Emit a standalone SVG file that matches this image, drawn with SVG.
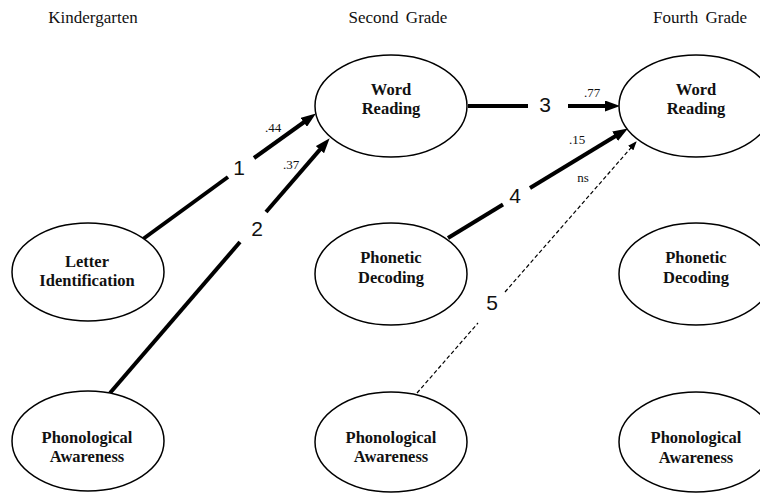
<svg xmlns="http://www.w3.org/2000/svg" width="760" height="495" viewBox="0 0 760 495">
<defs>
<style>
.node ellipse{fill:#fff;stroke:#000;stroke-width:1.5}
.nt{font-family:"Liberation Serif","Times New Roman",serif;font-weight:bold;font-size:16.5px;text-anchor:middle;fill:#111}
.hdr{font-family:"Liberation Serif","Times New Roman",serif;font-size:17px;text-anchor:middle;fill:#111}
.thick{stroke:#000;stroke-width:4;fill:none}
.dash{stroke:#000;stroke-width:1.2;stroke-dasharray:4 2.5;fill:none}
.num{font-family:"Liberation Sans",Arial,sans-serif;font-size:21px;text-anchor:middle;fill:#111}
.coef{font-family:"Liberation Serif","Times New Roman",serif;font-size:13px;text-anchor:middle;fill:#111}
</style>
<marker id="ah" markerUnits="userSpaceOnUse" markerWidth="15" markerHeight="11" refX="4" refY="5.5" orient="auto" viewBox="0 0 15 11">
<path d="M0,0 L15,5.5 L0,11 z" fill="#000"/>
</marker>
<marker id="ahs" markerUnits="userSpaceOnUse" markerWidth="9" markerHeight="7" refX="8" refY="3.5" orient="auto" viewBox="0 0 9 7">
<path d="M0,0 L9,3.5 L0,7 z" fill="#000"/>
</marker>
</defs>
<rect width="760" height="495" fill="#fff"/>
<g id="headers">
<text class="hdr" x="93" y="23">Kindergarten</text>
<text class="hdr" x="398" y="23" word-spacing="3">Second Grade</text>
<text class="hdr" x="700" y="23" word-spacing="3">Fourth Grade</text>
</g>
<g id="connectors">
<line class="thick" x1="143" y1="239" x2="228" y2="177"/>
<line class="thick" x1="254" y1="158" x2="307" y2="120" marker-end="url(#ah)"/>
<line class="thick" x1="110" y1="393" x2="240" y2="242"/>
<line class="thick" x1="266" y1="212" x2="322.5" y2="146.6" marker-end="url(#ah)"/>
<line class="thick" x1="468" y1="106" x2="528" y2="106"/>
<line class="thick" x1="568" y1="106" x2="609" y2="106" marker-end="url(#ah)"/>
<line class="thick" x1="448" y1="238" x2="503" y2="204.5"/>
<line class="thick" x1="530" y1="188" x2="618.5" y2="134.2" marker-end="url(#ah)"/>
<line class="dash" x1="417" y1="393" x2="478" y2="323"/>
<line class="dash" x1="505" y1="292" x2="636" y2="142" marker-end="url(#ahs)"/>
<text class="num" x="239" y="175">1</text>
<text class="num" x="257" y="236">2</text>
<text class="num" x="545" y="112">3</text>
<text class="num" x="515" y="203">4</text>
<text class="num" x="492" y="310">5</text>
<text class="coef" x="273" y="132">.44</text>
<text class="coef" x="291" y="169">.37</text>
<text class="coef" x="592" y="97">.77</text>
<text class="coef" x="577" y="144">.15</text>
<text class="coef" x="583" y="182">ns</text>
</g>
<g id="k-letter" class="node"><ellipse cx="88" cy="272" rx="76" ry="49"/><text class="nt" x="87" y="267">Letter</text><text class="nt" x="87" y="286">Identification</text></g>
<g id="k-phon" class="node"><ellipse cx="88" cy="441" rx="76" ry="50"/><text class="nt" x="87" y="443">Phonological</text><text class="nt" x="87" y="462">Awareness</text></g>
<g id="g2-word" class="node"><ellipse cx="391" cy="106" rx="76" ry="51"/><text class="nt" x="391" y="95">Word</text><text class="nt" x="391" y="114">Reading</text></g>
<g id="g2-decode" class="node"><ellipse cx="391" cy="274" rx="76" ry="51"/><text class="nt" x="391" y="263">Phonetic</text><text class="nt" x="391" y="283">Decoding</text></g>
<g id="g2-phon" class="node"><ellipse cx="391" cy="442" rx="76" ry="50"/><text class="nt" x="391" y="443">Phonological</text><text class="nt" x="391" y="462">Awareness</text></g>
<g id="g4-word" class="node"><ellipse cx="696" cy="106" rx="77" ry="51"/><text class="nt" x="696" y="95">Word</text><text class="nt" x="696" y="114">Reading</text></g>
<g id="g4-decode" class="node"><ellipse cx="696" cy="274" rx="77" ry="51"/><text class="nt" x="696" y="263">Phonetic</text><text class="nt" x="696" y="283">Decoding</text></g>
<g id="g4-phon" class="node"><ellipse cx="696" cy="442" rx="77" ry="50"/><text class="nt" x="696" y="443">Phonological</text><text class="nt" x="696" y="463">Awareness</text></g>
</svg>
